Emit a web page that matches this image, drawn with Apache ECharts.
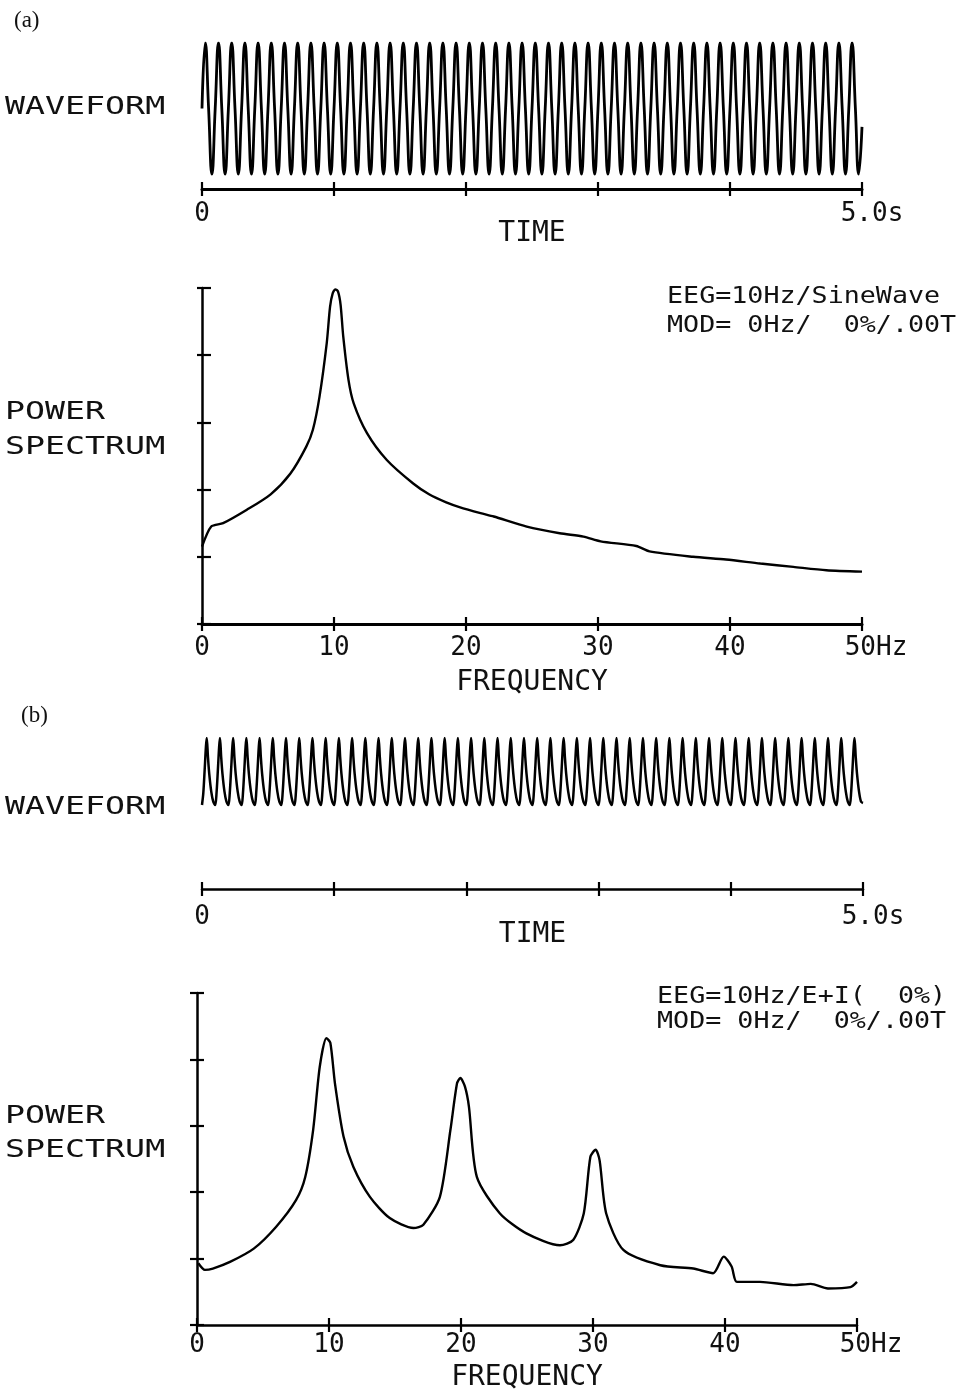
<!DOCTYPE html>
<html><head><meta charset="utf-8">
<script src="https://cdn.jsdelivr.net/npm/echarts/dist/echarts.min.js"></script>
<style>html,body{margin:0;padding:0;background:#fff}#c{width:970px;height:1393px}</style>
</head><body><div id="c"></div><script>
// ---------------- data ----------------
const timeTicks = [0, 1, 2, 3, 4, 5];
const timeTickLabels = ['0', '', '', '', '', '5.0s'];
const freqTicks = [0, 10, 20, 30, 40, 50];
const freqTickLabels = ['0', '10', '20', '30', '40', '50Hz'];

// (a) 10 Hz sine waveform: 50 cycles in 5 s, peak / trough of each cycle
const waveA_period = 0.1;
const waveA_peaks = [
 1.00,1.00,1.00,1.00,1.00,1.00,1.00,1.00,1.00,1.00,
 1.00,1.00,1.00,1.00,1.00,1.00,1.00,1.00,1.00,1.00,
 1.00,1.00,1.00,1.00,1.00,1.00,1.00,1.00,1.00,1.00,
 1.00,1.00,1.00,1.00,1.00,1.00,1.00,1.00,1.00,1.00,
 1.00,1.00,1.00,1.00,1.00,1.00,1.00,1.00,1.00,1.00];
const waveA_troughs = [
 -1.00,-1.00,-1.00,-1.00,-1.00,-1.00,-1.00,-1.00,-1.00,-1.00,
 -1.00,-1.00,-1.00,-1.00,-1.00,-1.00,-1.00,-1.00,-1.00,-1.00,
 -1.00,-1.00,-1.00,-1.00,-1.00,-1.00,-1.00,-1.00,-1.00,-1.00,
 -1.00,-1.00,-1.00,-1.00,-1.00,-1.00,-1.00,-1.00,-1.00,-1.00,
 -1.00,-1.00,-1.00,-1.00,-1.00,-1.00,-1.00,-1.00,-1.00,-1.00];
const waveA_end = -0.28;

// (b) E+I waveform: one cycle's shape (phase within cycle, level) and peak of each cycle
const waveB_period = 0.1;
const waveB_shapePhase = [0, 0.10, 0.20, 0.30, 0.36, 0.45, 0.55, 0.70, 0.85];
const waveB_shapeLevel = [0, 0.18, 0.52, 0.88, 1.00, 0.72, 0.46, 0.20, 0.05];
const waveB_peaks = [
 1.00,1.00,1.00,1.00,1.00,1.00,1.00,1.00,1.00,1.00,
 1.00,1.00,1.00,1.00,1.00,1.00,1.00,1.00,1.00,1.00,
 1.00,1.00,1.00,1.00,1.00,1.00,1.00,1.00,1.00,1.00,
 1.00,1.00,1.00,1.00,1.00,1.00,1.00,1.00,1.00,1.00,
 1.00,1.00,1.00,1.00,1.00,1.00,1.00,1.00,1.00,1.00];
const waveB_end = 0.03;

// (a) power spectrum
const specA_freq = [0, 0.7, 1.6, 3.4, 5.2, 6.7, 7.9, 8.4, 8.9, 9.45, 9.7, 9.9, 10.1, 10.3, 10.5, 10.7, 11.1, 11.5, 12.5, 14.0, 16.0, 17.2, 18.5, 19.5, 21.1, 22.1, 24.6, 27.1, 28.9, 30.2, 32.9, 33.9, 37.2, 39.7, 42.3, 44.8, 47.3, 50];
const specA_pow  = [1.15, 1.45, 1.50, 1.70, 1.93, 2.24, 2.64, 2.89, 3.38, 4.18, 4.72, 4.92, 4.98, 4.95, 4.75, 4.28, 3.63, 3.28, 2.84, 2.44, 2.09, 1.93, 1.81, 1.74, 1.65, 1.60, 1.45, 1.35, 1.30, 1.23, 1.16, 1.08, 1.00, 0.96, 0.90, 0.85, 0.80, 0.78];

// (b) power spectrum
const specB_freq = [0.1, 0.6, 1.2, 2.5, 4.3, 6.0, 7.5, 8.2, 8.8, 9.3, 9.8, 10.1, 10.45, 11.1, 11.85, 13.1, 14.6, 16.4, 17.15, 18.4, 19.2, 19.7, 19.95, 20.3, 20.6, 21.2, 22.95, 24.95, 27.5, 28.5, 29.3, 29.8, 30.2, 30.5, 31.0, 32.3, 35.1, 37.6, 39.1, 39.9, 40.5, 40.9, 42.65, 45.2, 46.5, 47.8, 49.5, 50];
const specB_pow  = [0.93, 0.83, 0.85, 0.95, 1.15, 1.48, 1.88, 2.23, 2.94, 3.89, 4.32, 4.25, 3.64, 2.84, 2.38, 1.93, 1.61, 1.46, 1.51, 1.93, 2.94, 3.64, 3.72, 3.59, 3.29, 2.23, 1.68, 1.38, 1.20, 1.28, 1.68, 2.53, 2.64, 2.48, 1.68, 1.13, 0.90, 0.85, 0.78, 1.03, 0.88, 0.65, 0.65, 0.60, 0.62, 0.55, 0.57, 0.65];

// ---------------- build series data ----------------
const r4 = v => Math.round(v * 10000) / 10000;
function buildWaveA() {
  const pts = [[0, 0]];
  const n = waveA_peaks.length;
  for (let i = 0; i < n; i++) {
    const t0 = i * waveA_period;
    pts.push([r4(t0 + waveA_period * 0.25), waveA_peaks[i]]);
    pts.push([r4(t0 + waveA_period * 0.5), 0]);
    pts.push([r4(t0 + waveA_period * 0.75), waveA_troughs[i]]);
    if (i < n - 1) pts.push([r4(t0 + waveA_period), 0]);
  }
  pts.push([5, waveA_end]);
  return pts;
}
function buildWaveB() {
  const pts = [];
  for (let i = 0; i < waveB_peaks.length; i++) {
    const t0 = i * waveB_period;
    for (let j = 0; j < waveB_shapePhase.length; j++) {
      pts.push([r4(t0 + waveB_shapePhase[j] * waveB_period), waveB_shapeLevel[j] * waveB_peaks[i]]);
    }
  }
  pts.push([5, waveB_end]);
  return pts;
}
const zip = (a, b) => a.map((v, i) => [v, b[i]]);

// ---------------- styles ----------------
const FONT = '"DejaVu Sans Mono", monospace';
const INK = '#000';
const TXT = '#111';

function mainX(grid, max, interval, labels, ticks, margin, name, nameGap, lastPad, lineW) {
  return {
    gridIndex: grid, type: 'value', position: 'bottom', min: 0, max: max, interval: interval,
    axisLine: { show: true, onZero: false, lineStyle: { color: INK, width: lineW } },
    axisTick: { show: true, inside: false, length: 7, lineStyle: { color: INK, width: 2.2 } },
    splitLine: { show: false },
    axisLabel: {
      show: true, margin: margin, color: TXT, fontFamily: FONT, fontSize: 26,
      formatter: v => {
        const idx = ticks.indexOf(v);
        const s = idx >= 0 ? labels[idx] : '';
        return v === max ? '{r|' + s + '}' : s;
      },
      rich: { r: { padding: [0, 0, 0, lastPad], fontFamily: FONT, fontSize: 26, color: TXT } }
    },
    name: name, nameLocation: 'middle', nameGap: nameGap, nameMoveOverlap: false,
    nameTextStyle: { fontFamily: FONT, fontSize: 28, color: TXT }
  };
}
function innerX(grid, max, interval) {
  return {
    gridIndex: grid, type: 'value', position: 'bottom', min: 0, max: max, interval: interval,
    axisLine: { show: false, onZero: false },
    axisTick: { show: true, inside: true, length: 7, lineStyle: { color: INK, width: 2.2 } },
    axisLabel: { show: false }, splitLine: { show: false }
  };
}
function specY(grid, inside, len, showLine) {
  return {
    gridIndex: grid, type: 'value', position: 'left', min: 0, max: 5, interval: 1,
    axisLine: { show: showLine, onZero: false, lineStyle: { color: INK, width: 2.5 } },
    axisTick: { show: true, inside: inside, length: len, lineStyle: { color: INK, width: 2.2 } },
    axisLabel: { show: false }, splitLine: { show: false }
  };
}
function hiddenY(grid, min) {
  return { gridIndex: grid, type: 'value', min: min, max: 1, show: false, splitLine: { show: false } };
}

function txt(x, y, s, size, scaleX, family) {
  return {
    type: 'text', x: x, y: y, scaleX: scaleX || 1, silent: true,
    style: {
      text: s, fill: TXT, font: size + 'px ' + (family || FONT),
      textAlign: 'left', textVerticalAlign: 'middle', align: 'left', verticalAlign: 'middle'
    }
  };
}

const option = {
  animation: false,
  backgroundColor: '#fff',
  grid: [
    { left: 202, top: 43, width: 660, height: 146 },
    { left: 202, top: 288, width: 660, height: 336 },
    { left: 202, top: 738, width: 661, height: 151 },
    { left: 197, top: 993, width: 660, height: 332 }
  ],
  xAxis: [
    mainX(0, 5, 1, timeTickLabels, timeTicks, 12, 'TIME', 31, 20, 3),
    innerX(0, 5, 1),
    mainX(1, 50, 10, freqTickLabels, freqTicks, 11, 'FREQUENCY', 45, 28, 3),
    innerX(1, 50, 10),
    mainX(2, 5, 1, timeTickLabels, timeTicks, 15, 'TIME', 32, 20, 2.5),
    innerX(2, 5, 1),
    mainX(3, 50, 10, freqTickLabels, freqTicks, 7, 'FREQUENCY', 39, 28, 2.5),
    innerX(3, 50, 10)
  ],
  yAxis: [
    hiddenY(0, -1.229),
    specY(1, true, 9, true),
    specY(1, false, 5, false),
    hiddenY(2, -1.254),
    specY(3, true, 7, true),
    specY(3, false, 7, false)
  ],
  series: [
    { type: 'line', xAxisIndex: 0, yAxisIndex: 0, data: buildWaveA(), showSymbol: false, smooth: 0.5,
      lineStyle: { color: INK, width: 2.8 } },
    { type: 'line', xAxisIndex: 2, yAxisIndex: 1, data: zip(specA_freq, specA_pow), showSymbol: false,
      smooth: 0.25, lineStyle: { color: INK, width: 2.4 } },
    { type: 'line', xAxisIndex: 4, yAxisIndex: 3, data: buildWaveB(), showSymbol: false, smooth: 0.3,
      lineStyle: { color: INK, width: 2.5 } },
    { type: 'line', xAxisIndex: 6, yAxisIndex: 4, data: zip(specB_freq, specB_pow), showSymbol: false,
      smooth: 0.25, lineStyle: { color: INK, width: 2.4 } }
  ],
  graphic: [
    txt(14, 21, '(a)', 23, 1, '"Liberation Serif", serif'),
    txt(21, 716, '(b)', 23, 1, '"Liberation Serif", serif'),
    txt(5, 107, 'WAVEFORM', 25, 1.33),
    txt(5, 412, 'POWER', 25, 1.33),
    txt(5, 447, 'SPECTRUM', 25, 1.33),
    txt(667, 297, 'EEG=10Hz/SineWave', 23, 1.16),
    txt(667, 326, 'MOD= 0Hz/  0%/.00T', 23, 1.16),
    txt(5, 807, 'WAVEFORM', 25, 1.33),
    txt(5, 1116, 'POWER', 25, 1.33),
    txt(5, 1150, 'SPECTRUM', 25, 1.33),
    txt(657, 997, 'EEG=10Hz/E+I(  0%)', 23, 1.16),
    txt(657, 1022, 'MOD= 0Hz/  0%/.00T', 23, 1.16)
  ]
};
const chart = echarts.init(document.getElementById('c'), null, { renderer: 'canvas' });
chart.setOption(option);
</script></body></html>
